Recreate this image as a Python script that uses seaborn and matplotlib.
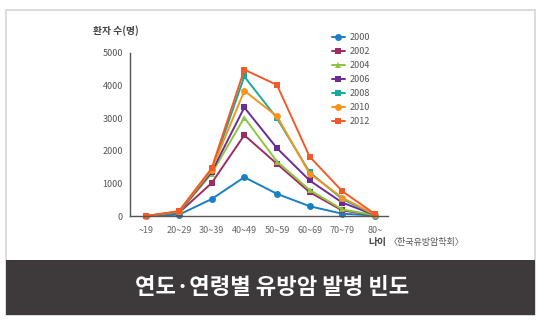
import matplotlib
matplotlib.use("Agg")
import matplotlib.pyplot as plt
import seaborn as sns
import pandas as pd
from matplotlib.patches import Rectangle
from matplotlib.lines import Line2D

sns.set_style("white")
plt.rcParams['font.family'] = ['Noto Sans CJK KR', 'DejaVu Sans']

age_groups = ["~19", "20~29", "30~39", "40~49", "50~59", "60~69", "70~79", "80~"]
years = ["2000", "2002", "2004", "2006", "2008", "2010", "2012"]
v2000 = [0, 40, 520, 1190, 680, 300, 70, 15]
v2002 = [0, 100, 1010, 2480, 1600, 730, 170, 25]
v2004 = [0, 110, 1300, 3020, 1670, 800, 200, 25]
v2006 = [0, 120, 1350, 3330, 2080, 1090, 410, 30]
v2008 = [0, 130, 1400, 4280, 3000, 1340, 520, 35]
v2010 = [0, 140, 1420, 3840, 3060, 1300, 560, 40]
v2012 = [0, 150, 1460, 4490, 4020, 1820, 760, 60]
series = [v2000, v2002, v2004, v2006, v2008, v2010, v2012]

colors = ["#1b7fc3", "#9e2b62", "#8cc63f", "#6a2d92", "#17a99a", "#f7941d", "#f15a29"]
markers = ["o", "s", "^", "s", "s", "o", "s"]

rows = []
for y, vals in zip(years, series):
    for i, (a, v) in enumerate(zip(age_groups, vals)):
        rows.append({"year": y, "age": i, "value": v})
df = pd.DataFrame(rows)

fig = plt.figure(figsize=(5.45, 3.24), dpi=100)
W, H = 545, 324

# outer frame and banner
fig.patches.append(Rectangle((6 / W, 1 - 315 / H), 529 / W, 305 / H, transform=fig.transFigure,
                             facecolor="white", edgecolor="#d6d6d6", linewidth=1.2, zorder=-2))
fig.patches.append(Rectangle((6 / W, 1 - 315 / H), 529 / W, 55 / H, transform=fig.transFigure,
                             facecolor="#3e3a3b", edgecolor="none", zorder=-1))
fig.text(272 / W, 1 - 288 / H, "연도·연령별 유방암 발병 빈도", color="white", fontsize=16,
         fontweight="bold", ha="center", va="center")

ax = fig.add_axes([130 / W, 1 - 216 / H, (388 - 130) / W, (216 - 53) / H])
ax.set_zorder(3)
ax.set_facecolor("none")
sns.lineplot(data=df, x="age", y="value", hue="year", style="year", palette=colors,
             markers=markers, dashes=False, markersize=5, linewidth=1.4,
             markeredgewidth=0, ax=ax, legend=False, clip_on=False)

ax.set_xlim(-0.5, 7.4)
ax.set_ylim(0, 5000)
ax.set_xlabel("")
ax.set_ylabel("")
for s in ["top", "right"]:
    ax.spines[s].set_visible(False)
for s in ["left", "bottom"]:
    ax.spines[s].set_color("#555555")
    ax.spines[s].set_linewidth(1.0)

ax.set_yticks([0, 1000, 2000, 3000, 4000, 5000])
ax.set_yticklabels(["0", "1000", "2000", "3000", "4000", "5000"])
ax.set_xticks(range(len(age_groups)))
ax.set_xticklabels(age_groups)
ax.set_xticks([1.5, 2.5, 3.5, 4.5, 5.5, 6.5], minor=True)
ax.tick_params(axis="x", which="major", length=0, pad=7, labelsize=6.5, labelcolor="#666666")
ax.tick_params(axis="x", which="minor", direction="in", length=4, color="#555555")
ax.tick_params(axis="y", which="major", direction="in", length=4, color="#555555",
               pad=5, labelsize=6.5, labelcolor="#555555")

fig.text(93 / W, 1 - 31 / H, "환자 수(명)", fontsize=7, fontweight="bold", color="#444444",
         ha="left", va="center")
fig.text(386 / W, 1 - 242 / H, "나이", fontsize=7, fontweight="bold", color="#444444",
         ha="right", va="center")
fig.text(389 / W, 1 - 242 / H, "〈한국유방암학회〉", fontsize=6.5, color="#555555",
         ha="left", va="center")

handles = [Line2D([], [], color=c, marker=m, markersize=5, markeredgewidth=0, linewidth=1.4)
           for c, m in zip(colors, markers)]
fig.legend(handles, years, loc="upper left", bbox_to_anchor=(332 / W, 1 - 33 / H),
           frameon=False, fontsize=6.5, handlelength=1.4, handletextpad=0.6,
           labelspacing=0.55, labelcolor="#555555", borderaxespad=0, borderpad=0)

fig.savefig("out.png", dpi=100)
